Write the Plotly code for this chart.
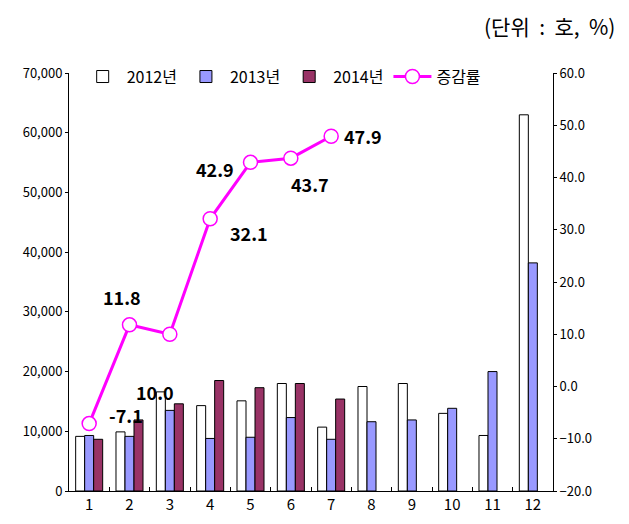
import plotly.graph_objects as go

months = ["1", "2", "3", "4", "5", "6", "7", "8", "9", "10", "11", "12"]
y2012 = [9150, 9900, 16600, 14300, 15100, 18000, 10700, 17500, 18000, 13000, 9300, 63000]
y2013 = [9300, 9150, 13500, 8800, 9000, 12300, 8660, 11600, 11900, 13850, 20000, 38200]
y2014 = [8660, 11900, 14600, 18500, 17300, 18000, 15400, None, None, None, None, None]
rate_months = ["1", "2", "3", "4", "5", "6", "7"]
rate = [-7.1, 11.8, 10.0, 32.1, 42.9, 43.7, 47.9]
# label offsets (px) relative to each point
label_dx = [37, -8, -15, 39, -36, 19, 32]
label_dy = [9, 28, -58, -14, -7, -26, 0]

font_kr = "Noto Sans CJK KR"

fig = go.Figure()
fig.add_trace(go.Bar(x=months, y=y2012, name="2012년",
                     marker=dict(color="#FFFFFF", line=dict(color="#000000", width=1))))
fig.add_trace(go.Bar(x=months, y=y2013, name="2013년",
                     marker=dict(color="#9999FF", line=dict(color="#000000", width=1))))
fig.add_trace(go.Bar(x=months, y=y2014, name="2014년",
                     marker=dict(color="#993366", line=dict(color="#000000", width=1))))
fig.add_trace(go.Scatter(x=rate_months, y=rate, name="증감률", yaxis="y2",
                         mode="lines+markers",
                         line=dict(color="#FF00FF", width=3),
                         marker=dict(symbol="circle", size=14, color="#FFFFFF",
                                     line=dict(color="#FF00FF", width=1.5))))

annotations = []
for i, (v, dx, dy) in enumerate(zip(rate, label_dx, label_dy)):
    annotations.append(dict(x=i, y=v, xref="x", yref="y2", text=f"<b>{v:.1f}</b>",
                            showarrow=False, xshift=dx, yshift=dy,
                            font=dict(family=font_kr, size=18, color="#000000")))
annotations.append(dict(x=1.0, y=1.0, xref="paper", yref="paper", yanchor="top",
                        xanchor="right", text="(단위  :  호,  %)", showarrow=False,
                        xshift=64, yshift=64,
                        font=dict(family=font_kr, size=21, color="#000000")))

fig.update_layout(
    width=629, height=524,
    margin=dict(l=61, r=84, t=65, b=41, autoexpand=False),
    paper_bgcolor="#FFFFFF", plot_bgcolor="#FFFFFF",
    barmode="group", bargap=0.33, bargroupgap=0,
    font=dict(family=font_kr, color="#000000"),
    showlegend=True,
    legend=dict(orientation="h", x=0.02, y=1.032, xanchor="left", yanchor="top",
                font=dict(family=font_kr, size=16, color="#000000"),
                bgcolor="rgba(0,0,0,0)", itemwidth=38, tracegroupgap=0),
    xaxis=dict(type="category", range=[-0.5, 11.5], showline=True, linecolor="#000000",
               linewidth=1, ticks="inside", tickson="boundaries", ticklen=4,
               tickcolor="#000000", showgrid=False,
               tickfont=dict(family=font_kr, size=15, color="#000000"),
               automargin=False),
    yaxis=dict(range=[0, 70000], dtick=10000, tickformat=",", showline=True,
               linecolor="#000000", linewidth=1, ticks="outside", ticklen=3,
               tickcolor="#000000", showgrid=False, zeroline=False, automargin=False,
               tickfont=dict(family=font_kr, size=13, color="#000000")),
    yaxis2=dict(range=[-20, 60], dtick=10, tickformat=".1f", overlaying="y", side="right",
                showline=True, linecolor="#000000", linewidth=1, ticks="outside",
                ticklen=3, tickcolor="#000000", showgrid=False, zeroline=False,
                automargin=False,
                tickfont=dict(family=font_kr, size=13, color="#000000")),
    annotations=annotations,
)

fig.write_html("out.html")
